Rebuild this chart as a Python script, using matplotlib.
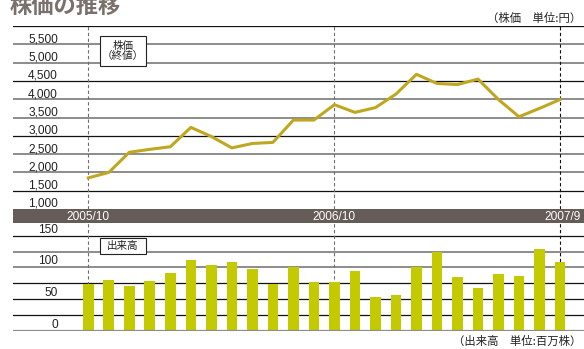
import matplotlib
matplotlib.use("Agg")
import matplotlib.pyplot as plt
from matplotlib.patches import Rectangle
from matplotlib import transforms

# ---- data -------------------------------------------------------------
months = list(range(24))  # 2005/10 ... 2007/9
price = [1850, 2000, 2550, 2630, 2700, 3230, 2980, 2670, 2790, 2820, 3430, 3430,
         3850, 3640, 3770, 4140, 4680, 4430, 4400, 4550, 3990, 3520, 3750, 3990]
volume = [73, 80, 71, 78, 91, 112, 104, 109, 98, 73, 100, 77,
          77, 94, 54, 57, 100, 125, 85, 67, 89, 86, 129, 108]

price_ticks = [1000, 1500, 2000, 2500, 3000, 3500, 4000, 4500, 5000, 5500]
price_tick_labels = ["1,000", "1,500", "2,000", "2,500", "3,000",
                     "3,500", "4,000", "4,500", "5,000", "5,500"]
volume_ticks = [0, 50, 100, 150]
volume_tick_labels = ["0", "50", "100", "150"]
period_idx = [0, 12, 23]
period_labels = ["2005/10", "2006/10", "2007/9"]

# ---- styling ----------------------------------------------------------
JP = ["Noto Sans CJK JP", "DejaVu Sans"]
NUM = ["Liberation Sans", "DejaVu Sans"]
LINE_GOLD = "#bfa720"
BAR_GREEN = "#c3cb00"
BAND = "#655b57"
DARK = "#111111"
GRAY = "#8c8c8c"

W, H = 584, 349
fig = plt.figure(figsize=(W / 100, H / 100), dpi=100)


def fx(x):
    return x / W


def fy(y):
    return 1 - y / H


left_px, right_px = 13, 584
x0_px, step_px = 88.3, 20.51
xlim = ((left_px - x0_px) / step_px, (right_px - x0_px) / step_px)

# ---- price panel ------------------------------------------------------
top_px, base_px = 26, 209
ax_p = fig.add_axes([fx(left_px), fy(base_px), fx(right_px - left_px), (base_px - top_px) / H])
ax_p.set_xlim(xlim)
ax_p.set_ylim(1000, 6000)
ax_p.axis("off")

for v in range(1500, 6001, 500):
    if (6000 - v) % 1500 == 0:
        ax_p.axhline(v, color=DARK, lw=0.9, zorder=1)
    else:
        ax_p.axhline(v, color=GRAY, lw=1.4, zorder=1)

for i in period_idx:
    c = DARK if i == period_idx[-1] else "#6e6e6e"
    ax_p.axvline(i, color=c, lw=0.8, linestyle=(0, (3, 2.2)), zorder=2)

ax_p.plot(months, price, color=LINE_GOLD, lw=2.2, zorder=3)

lab_tf_p = transforms.offset_copy(ax_p.get_yaxis_transform(), fig=fig, y=2, units="dots")
xlab = (58 - left_px) / (right_px - left_px)
for v, s in zip(price_ticks, price_tick_labels):
    ax_p.text(xlab, v, s, transform=lab_tf_p, ha="right", va="baseline",
              fontsize=8.6, family=NUM, color="#222222", zorder=4)

# ---- period band ------------------------------------------------------
band_top, band_bot = 209, 222.7
ax_b = fig.add_axes([fx(left_px), fy(band_bot), fx(right_px - left_px), (band_bot - band_top) / H])
ax_b.set_xlim(xlim)
ax_b.set_ylim(0, 1)
ax_b.set_facecolor(BAND)
for sp in ax_b.spines.values():
    sp.set_visible(False)
ax_b.set_xticks([])
ax_b.set_yticks([])
for i, s in zip(period_idx, period_labels):
    ha = "right" if i == period_idx[-1] else "center"
    xi = i + 1.0 if i == period_idx[-1] else i
    ax_b.text(xi, 0.45, s, ha=ha, va="center", color="white",
              fontsize=8.6, family=NUM)

# ---- volume panel -----------------------------------------------------
v_zero_px, v_150_px = 330.7, 235.7
v_scale = (v_zero_px - v_150_px) / 150
v_top = (v_zero_px - band_bot) / v_scale
ax_v = fig.add_axes([fx(left_px), fy(v_zero_px), fx(right_px - left_px), (v_zero_px - band_bot) / H])
ax_v.set_xlim(xlim)
ax_v.set_ylim(0, v_top)
ax_v.axis("off")

for v in range(25, 151, 25):
    if v in (150, 75, 50, 25):
        ax_v.axhline(v, color=DARK, lw=0.9, zorder=1)
    else:
        ax_v.axhline(v, color=GRAY, lw=1.4, zorder=1)
ax_v.axhline(0, color=GRAY, lw=1.6, zorder=4)

for i in period_idx:
    c = DARK if i == period_idx[-1] else "#6e6e6e"
    ax_v.axvline(i, color=c, lw=0.8, linestyle=(0, (3, 2.2)), zorder=2)

ax_v.bar(months, volume, width=0.52, color=BAR_GREEN, zorder=3)

lab_tf_v = transforms.offset_copy(ax_v.get_yaxis_transform(), fig=fig, y=3, units="dots")
for v, s in zip(volume_ticks, volume_tick_labels):
    ax_v.text(xlab, v, s, transform=lab_tf_v, ha="right", va="baseline",
              fontsize=8.6, family=NUM, color="#222222", zorder=5)

# ---- captions and series labels --------------------------------------
fig.text(fx(10), fy(13), "株価の推移", ha="left", va="baseline",
         fontsize=16, fontweight="bold", color="#7a706c", family=JP)
fig.text(fx(581), fy(18), "（株価　単位:円）", ha="right", va="center",
         fontsize=8.2, color="#222222", family=JP)
fig.text(fx(581), fy(341.5), "（出来高　単位:百万株）", ha="right", va="center",
         fontsize=8.2, color="#222222", family=JP)


def label_box(x1, y1, x2, y2, text):
    fig.patches.append(Rectangle((fx(x1), fy(y2)), fx(x2 - x1), (y2 - y1) / H,
                                 transform=fig.transFigure, facecolor="white",
                                 edgecolor="#222222", lw=0.8, zorder=6))
    fig.text(fx((x1 + x2) / 2), fy((y1 + y2) / 2), text, ha="center", va="center",
             fontsize=7.6, color="#222222", family=JP, linespacing=1.05, zorder=7)


label_box(100, 35.7, 146, 66, "株価\n（終値）")
label_box(100, 238.3, 146, 254, "出来高")

fig.savefig("out.png", dpi=100)
